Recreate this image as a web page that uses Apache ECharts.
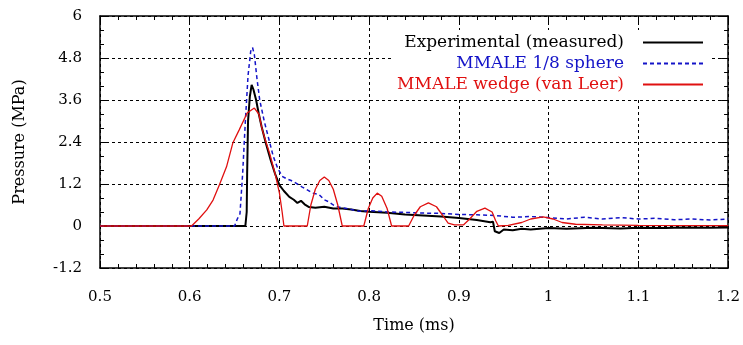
<!DOCTYPE html>
<html><head><meta charset="utf-8">
<script src="https://cdn.jsdelivr.net/npm/echarts@6/dist/echarts.min.js"></script>
<style>html,body{margin:0;padding:0;background:#fff}#c{width:743px;height:345px}</style>
</head><body><div id="c"></div>
<script>
const xTicks = [0.5, 0.6, 0.7, 0.8, 0.9, 1, 1.1, 1.2];
const yTicks = [-1.2, 0, 1.2, 2.4, 3.6, 4.8, 6];
const seriesNames = ['Experimental (measured)', 'MMALE 1/8 sphere', 'MMALE wedge (van Leer)'];

const expTime = [0.5,0.662,0.6635,0.664,0.665,0.667,0.669,0.671,0.674,0.677,0.680,0.685,0.690,0.695,0.700,0.705,0.711,0.716,0.720,0.724,0.728,0.733,0.740,0.75,0.76,0.77,0.78,0.79,0.80,0.82,0.84,0.86,0.88,0.90,0.92,0.935,0.938,0.940,0.945,0.95,0.96,0.97,0.98,1.0,1.02,1.05,1.08,1.1,1.13,1.15,1.18,1.2];
const expPressure = [0,0,0.4,1.5,3.0,3.7,4.03,3.9,3.6,3.2,2.85,2.35,1.9,1.5,1.17,1.0,0.83,0.75,0.66,0.72,0.62,0.54,0.52,0.55,0.5,0.5,0.47,0.43,0.41,0.38,0.33,0.30,0.27,0.23,0.17,0.11,0.12,-0.15,-0.2,-0.1,-0.12,-0.08,-0.1,-0.06,-0.08,-0.05,-0.07,-0.05,-0.06,-0.04,-0.05,-0.04];

const sphTime = [0.5,0.650,0.653,0.656,0.659,0.662,0.665,0.668,0.670,0.672,0.675,0.678,0.683,0.688,0.693,0.698,0.703,0.708,0.713,0.718,0.725,0.73,0.737,0.744,0.75,0.755,0.76,0.766,0.775,0.789,0.80,0.82,0.84,0.86,0.88,0.90,0.92,0.94,0.96,0.98,1.0,1.02,1.04,1.06,1.08,1.1,1.12,1.14,1.16,1.18,1.2];
const sphPressure = [0,0,0.2,0.35,1.5,3.0,4.3,5.0,5.1,4.9,4.2,3.6,3.0,2.5,2.0,1.65,1.42,1.35,1.3,1.23,1.12,1.05,0.94,0.9,0.75,0.69,0.6,0.54,0.5,0.42,0.44,0.4,0.39,0.37,0.36,0.33,0.32,0.3,0.25,0.27,0.24,0.2,0.25,0.2,0.24,0.2,0.22,0.18,0.2,0.17,0.2];

const wedgeTime = [0.5,0.602,0.61,0.619,0.626,0.633,0.641,0.648,0.655,0.664,0.672,0.677,0.681,0.685,0.689,0.693,0.696,0.700,0.703,0.705,0.731,0.735,0.74,0.745,0.75,0.755,0.76,0.765,0.77,0.794,0.799,0.804,0.809,0.814,0.82,0.825,0.844,0.85,0.857,0.866,0.875,0.882,0.888,0.895,0.905,0.912,0.92,0.929,0.937,0.941,0.944,0.955,0.97,0.98,0.994,1.005,1.015,1.03,1.06,1.1,1.2];
const wedgePressure = [0,0,0.2,0.46,0.74,1.17,1.69,2.37,2.74,3.23,3.37,3.2,2.74,2.4,2.08,1.7,1.4,0.94,0.4,0,0,0.6,1.05,1.3,1.4,1.3,1.05,0.6,0,0,0.5,0.8,0.94,0.85,0.5,0,0,0.3,0.55,0.66,0.55,0.3,0.08,0.03,0.03,0.2,0.42,0.51,0.4,0.15,0,0.02,0.1,0.2,0.26,0.2,0.1,0.05,0.03,0.02,0.01];

const pairs = (t, v) => t.map((x, i) => [x, v[i]]);
const fmt = v => String(+(+v).toFixed(1));
const FONT = 'DejaVu Serif';

const chart = echarts.init(document.getElementById('c'), null, {renderer: 'canvas'});
const gridLine = {show: true, lineStyle: {color: '#000', type: [3, 3], width: 1}};
const axisBase = {
  axisLine: {show: true, onZero: false, lineStyle: {color: '#000', width: 1.5}},
  axisTick: {show: true, inside: true, length: 7, lineStyle: {color: '#000', width: 1}},
  minorTick: {show: true, length: 4, lineStyle: {color: '#000', width: 1}},
};
chart.setOption({
  animation: false,
  backgroundColor: '#fff',
  grid: {left: 100, right: 12, top: 16, bottom: 77},
  legend: {
    orient: 'vertical', align: 'right', right: 33, top: 30,
    itemWidth: 60, itemHeight: 14, itemGap: 4,
    padding: [4, 6, 4, 6],
    backgroundColor: '#fff',
    itemStyle: {opacity: 0},
    textStyle: {fontFamily: FONT, fontSize: 17, padding: [0, 14, 0, 0]},
    data: [
      {name: seriesNames[0], textStyle: {color: '#000'}},
      {name: seriesNames[1], textStyle: {color: '#1414c8'}},
      {name: seriesNames[2], textStyle: {color: '#e01010'}}
    ]
  },
  xAxis: [
    Object.assign({}, axisBase, {
      type: 'value', min: 0.5, max: 1.2, interval: 0.1,
      minorTick: Object.assign({}, axisBase.minorTick, {splitNumber: 5}),
      axisLabel: {formatter: fmt, fontFamily: FONT, fontSize: 15, color: '#000', margin: 22},
      splitLine: gridLine,
      name: 'Time (ms)', nameLocation: 'middle', nameGap: 50,
      nameTextStyle: {fontFamily: FONT, fontSize: 16, color: '#000'}
    }),
    Object.assign({}, axisBase, {
      type: 'value', min: 0.5, max: 1.2, interval: 0.1, position: 'top',
      minorTick: Object.assign({}, axisBase.minorTick, {splitNumber: 5}),
      axisLabel: {show: false}, splitLine: {show: false}
    })
  ],
  yAxis: [
    Object.assign({}, axisBase, {
      type: 'value', min: -1.2, max: 6, interval: 1.2,
      minorTick: Object.assign({}, axisBase.minorTick, {splitNumber: 3}),
      axisLabel: {formatter: fmt, fontFamily: FONT, fontSize: 15, color: '#000', margin: 18},
      splitLine: gridLine,
      name: 'Pressure (MPa)', nameLocation: 'middle', nameGap: 72,
      nameTextStyle: {fontFamily: FONT, fontSize: 16, color: '#000'}
    }),
    Object.assign({}, axisBase, {
      type: 'value', min: -1.2, max: 6, interval: 1.2, position: 'right',
      minorTick: Object.assign({}, axisBase.minorTick, {splitNumber: 3}),
      axisLabel: {show: false}, splitLine: {show: false}
    })
  ],
  series: [
    {name: seriesNames[0], type: 'line', symbol: 'none', data: pairs(expTime, expPressure),
     lineStyle: {color: '#000', width: 2}, itemStyle: {color: '#000'}, z: 3},
    {name: seriesNames[1], type: 'line', symbol: 'none', data: pairs(sphTime, sphPressure),
     lineStyle: {color: '#1414c8', width: 1.5, type: [4, 3]}, itemStyle: {color: '#1414c8'}, z: 4},
    {name: seriesNames[2], type: 'line', symbol: 'none', data: pairs(wedgeTime, wedgePressure),
     lineStyle: {color: '#e01010', width: 1.3}, itemStyle: {color: '#e01010'}, z: 5}
  ]
});
</script></body></html>
